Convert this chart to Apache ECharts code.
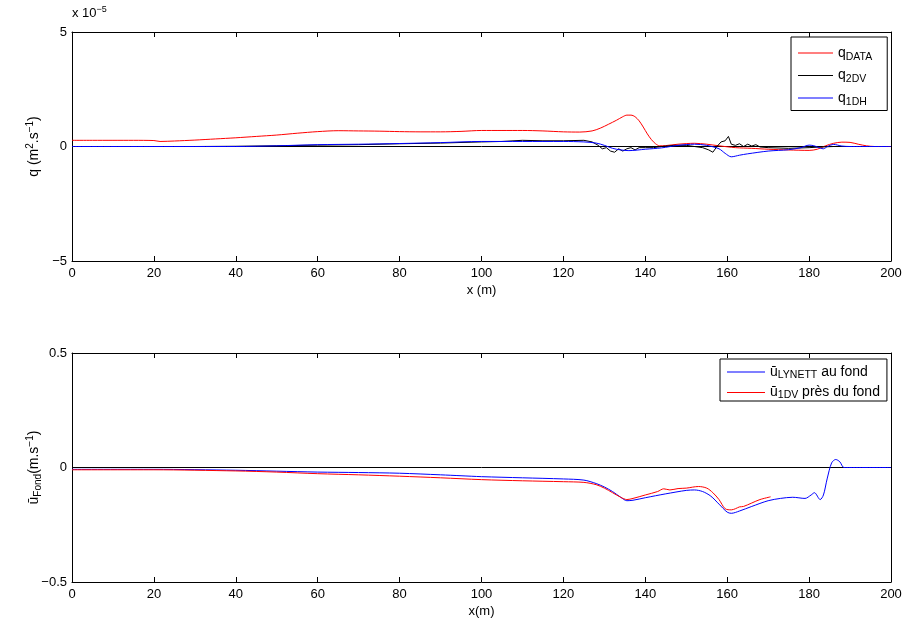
<!DOCTYPE html>
<html><head><meta charset="utf-8">
<script src="https://cdn.jsdelivr.net/npm/echarts@6/dist/echarts.min.js"></script>
<style>html,body{margin:0;padding:0;background:#fff}#c{width:907px;height:622px}</style>
</head><body><div id="c"></div>
<script>
// ---------- data (top panel values in units of 1e-5 m^2/s) ----------
const xTickValues = [0,20,40,60,80,100,120,140,160,180,200];
const qTickValues = [-5,0,5];
const uTickValues = [-0.5,0,0.5];

const qDataX = [0,5,10,15,20,21.5,25,30,35,40,45,50,55,60,65,70,75,80,85,90,95,100,105,110,115,120,124,127,129,131,133,134.5,135.5,136.5,137.5,138.5,139.5,140.5,141.5,142.5,143.5,145,148,152,155,158,162,166,170,175,180,182,184,186,188,190,192,194,196,200];
const qDataY = [0.27,0.27,0.27,0.27,0.26,0.22,0.24,0.28,0.33,0.38,0.44,0.5,0.58,0.65,0.69,0.68,0.67,0.65,0.64,0.64,0.66,0.70,0.70,0.70,0.68,0.64,0.63,0.68,0.8,0.97,1.15,1.3,1.37,1.37,1.3,1.12,0.85,0.55,0.3,0.12,0.03,0.04,0.1,0.14,0.1,0.03,-0.05,-0.08,-0.12,-0.15,-0.17,-0.12,0.03,0.14,0.19,0.18,0.1,0.03,0,0];

const q2dvX = [0,10,20,30,40,50,60,70,80,90,100,105,110,115,120,125,127,128.5,129.5,130.5,131.5,132.5,133.5,134.5,135.5,136.5,137.5,138.5,140,142,144,147,150,152,154,155.5,156.5,157.5,158.5,159.5,160.3,161,162,163,164,165,166,167,168,170,175,180,183,186,190,195];
const q2dvY = [0,0,0,0,0.01,0.03,0.06,0.08,0.12,0.15,0.2,0.22,0.27,0.25,0.25,0.27,0.2,0.05,-0.1,-0.05,-0.2,-0.25,-0.1,-0.2,-0.1,-0.05,-0.15,-0.05,-0.05,-0.05,0,0.05,0.05,0,-0.05,-0.15,-0.25,0,0.2,0.25,0.44,0.1,0.05,0.12,0,0.1,0.02,0.08,-0.02,-0.05,-0.08,-0.05,-0.02,0,0,0];

const q1dhX = [0,20,40,50,60,70,80,90,100,110,120,125,128,130,132,134,136,140,144,148,152,155,158,159.5,161,163,165,170,175,178,180,181,182,183.5,184.5,186,188,190,200];
const q1dhY = [0,0,0,0.03,0.08,0.1,0.13,0.17,0.22,0.22,0.22,0.2,0.15,0.05,-0.08,-0.15,-0.18,-0.12,-0.06,0.05,0.1,0.05,-0.1,-0.3,-0.45,-0.38,-0.32,-0.2,-0.14,-0.05,0.06,0.04,-0.02,-0.1,0,0.09,0.02,0,0];

const uLynX = [0,20,40,50,60,70,80,90,95,100,110,120,125,128,130,132,134,135.5,137,140,145,150,152,154,156,158,160,161,163,166,170,173,176,179,180.5,181.3,182.7,183.5,184.4,185.5,186.5,187.5,188.5,190,200];
const uLynY = [-0.008,-0.008,-0.012,-0.016,-0.02,-0.022,-0.025,-0.032,-0.036,-0.04,-0.045,-0.05,-0.055,-0.07,-0.085,-0.105,-0.13,-0.145,-0.143,-0.132,-0.115,-0.1,-0.098,-0.105,-0.125,-0.16,-0.195,-0.2,-0.19,-0.17,-0.145,-0.135,-0.13,-0.135,-0.12,-0.11,-0.14,-0.12,-0.05,0.02,0.035,0.025,0,0,0];

const u1dvX = [0,20,40,50,60,70,80,90,100,110,120,125,128,130,132,134,135.5,137,140,143,144.5,146,148,150,153,155,156.5,158,159.5,161,162,163,164,166,168,170.6];
const u1dvY = [-0.01,-0.01,-0.015,-0.02,-0.027,-0.032,-0.038,-0.045,-0.053,-0.058,-0.062,-0.065,-0.075,-0.09,-0.11,-0.13,-0.14,-0.135,-0.12,-0.105,-0.093,-0.098,-0.092,-0.09,-0.083,-0.09,-0.11,-0.14,-0.18,-0.185,-0.18,-0.172,-0.17,-0.155,-0.14,-0.128];

const zeroX = [0,200];
const zeroY = [0,0];

// ---------- chart ----------
const zip = (xs, ys) => xs.map((x, i) => [x, ys[i]]);
const FONT = 'Liberation Sans, Arial, Helvetica, sans-serif';
const minus = v => String(v).replace('-', '\u2212');

function xAx(grid, pos, show, name) {
  return {
    type: 'value', gridIndex: grid, position: pos, min: 0, max: 200, interval: 20,
    axisLine: {show: true, onZero: false, lineStyle: {color: '#000', width: 1}},
    axisTick: {show: true, inside: true, length: 5, lineStyle: {color: '#000'}},
    axisLabel: {show: show, color: '#000', fontSize: 13, fontFamily: FONT, margin: 6},
    splitLine: {show: false},
    name: name || '', nameLocation: 'middle', nameGap: 23, nameMoveOverlap: false,
    nameTextStyle: {color: '#000', fontSize: 13, fontFamily: FONT}
  };
}
function yAx(grid, pos, show, mn, mx, iv, name, gap) {
  return {
    type: 'value', gridIndex: grid, position: pos, min: mn, max: mx, interval: iv,
    axisLine: {show: true, onZero: false, lineStyle: {color: '#000', width: 1}},
    axisTick: {show: true, inside: true, length: 5, lineStyle: {color: '#000'}},
    axisLabel: {show: show, color: '#000', fontSize: 13, fontFamily: FONT, margin: 5, formatter: minus},
    splitLine: {show: false},
    name: name || '', nameLocation: 'middle', nameRotate: 90, nameGap: gap || 30, nameMoveOverlap: false,
    nameTextStyle: {color: '#000', fontSize: 14, fontFamily: FONT, rich: {
      sup: {fontSize: 10, fontFamily: FONT, color: '#000', padding: [0, 0, 8, 0]},
      sub: {fontSize: 10, fontFamily: FONT, color: '#000', padding: [8, 0, 0, 0]}
    }}
  };
}
function line(name, xi, yi, xs, ys, color, smooth) {
  return {name, type: 'line', xAxisIndex: xi, yAxisIndex: yi, data: zip(xs, ys),
    symbol: 'none', smooth: smooth, lineStyle: {color, width: 1}, itemStyle: {color}, animation: false};
}

const chart = echarts.init(document.getElementById('c'), null, {renderer: 'canvas'});
chart.setOption({
  backgroundColor: '#fff',
  animation: false,
  grid: [
    {left: 72, top: 32, width: 819, height: 229, containLabel: false},
    {left: 72, top: 353, width: 819, height: 229, containLabel: false}
  ],
  xAxis: [
    xAx(0, 'bottom', true, 'x (m)'), xAx(0, 'top', false),
    xAx(1, 'bottom', true, 'x(m)'), xAx(1, 'top', false)
  ],
  yAxis: [
    yAx(0, 'left', true, -5, 5, 5, 'q (m{sup|2}.s{sup|\u22121})', 29), yAx(0, 'right', false, -5, 5, 5),
    yAx(1, 'left', true, -0.5, 0.5, 0.5, '\u016B{sub|Fond}(m.s{sup|\u22121})', 29), yAx(1, 'right', false, -0.5, 0.5, 0.5)
  ],
  legend: [
    {
      id: 'legTop',
      data: ['q_DATA', 'q_2DV', 'q_1DH'], orient: 'vertical', left: 791, top: 37,
      icon: 'rect', itemWidth: 35, itemHeight: 1, itemGap: 6, padding: [9, 15, 3, 7],
      borderColor: '#000', borderWidth: 1, backgroundColor: '#fff', itemTextGap: 10,
      formatter: n => ({q_DATA: 'q{s|DATA}', q_2DV: 'q{s|2DV}', q_1DH: 'q{s|1DH}'})[n],
      textStyle: {color: '#000', fontSize: 14, fontFamily: FONT,
        rich: {s: {fontSize: 10.5, fontFamily: FONT, color: '#000', padding: [8, 0, 0, 0]}}}
    },
    {
      id: 'legBot',
      data: ['u_LYNETT', 'u_1DV'], orient: 'vertical', left: 720, top: 359,
      icon: 'rect', itemWidth: 38, itemHeight: 1, itemGap: 5, padding: [6, 7, 0, 7],
      borderColor: '#000', borderWidth: 1, backgroundColor: '#fff', itemTextGap: 2,
      formatter: n => ({u_LYNETT: '\u016B{s|LYNETT} au fond', u_1DV: '\u016B{s|1DV} pr\u00e8s du fond'})[n],
      textStyle: {color: '#000', fontSize: 14, fontFamily: FONT,
        rich: {s: {fontSize: 10.5, fontFamily: FONT, color: '#000', padding: [6, 0, 0, 0]}}}
    }
  ],
  graphic: [
    {type: 'text', left: 72, top: 5, style: {
      text: 'x 10{sup|\u22125}', fill: '#000', fontSize: 13, fontFamily: FONT,
      rich: {sup: {fontSize: 9, fontFamily: FONT, fill: '#000', padding: [0, 0, 8, 0]}}}}
  ],
  series: [
    line('zero_top', 0, 0, zeroX, zeroY, '#000', false),
    line('q_DATA', 0, 0, qDataX, qDataY, '#ff0000', 0.3),
    line('q_2DV', 0, 0, q2dvX, q2dvY, '#000000', false),
    line('q_1DH', 0, 0, q1dhX, q1dhY, '#0000ff', 0.3),
    line('zero_bot', 2, 2, zeroX, zeroY, '#000', false),
    line('u_LYNETT', 2, 2, uLynX, uLynY, '#0000ff', 0.3),
    line('u_1DV', 2, 2, u1dvX, u1dvY, '#ff0000', 0.3)
  ]
});
</script>
</body></html>
